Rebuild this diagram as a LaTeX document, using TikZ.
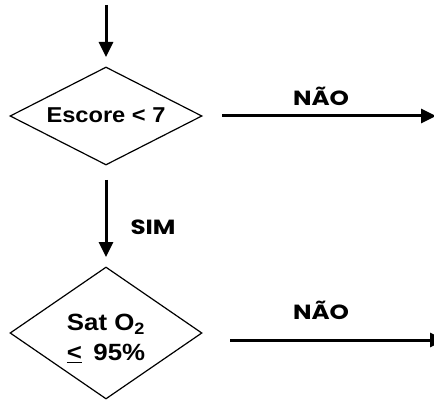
\documentclass[tikz,border=0pt]{standalone}
\usepackage{fontspec}
\usepackage{graphicx}
\setmainfont{Liberation Sans}
\newfontfamily\labelfont{Poppins}
\usetikzlibrary{arrows.meta,shapes.geometric}
\newcommand{\wide}[1]{\scalebox{1.1}[1]{#1}}
\newcommand{\widelabel}[1]{\scalebox{1.2}[1]{#1}}
\begin{document}
\begin{tikzpicture}[x=1pt,y=-1pt,
  decision/.style={draw,line width=1.2pt,diamond,inner sep=0pt,
    minimum width=192pt,minimum height=98pt},
  question/.style={font=\bfseries\fontsize{21.5}{35}\selectfont,align=center,inner sep=0pt},
  flow/.style={line width=3pt,-{Triangle[length=15pt,width=14pt]}},
  answer/.style={font=\labelfont\bfseries\fontsize{20.5}{24}\selectfont,inner sep=0pt}]
\useasboundingbox (0,0) rectangle (434,401);
\clip (0,0) rectangle (434,401);
\coordinate (start) at (106,5);
\node[decision] (d1) at (106,116) {};
\node[question] (t1) at (106,115) {\wide{Escore < 7}};
\node[decision,minimum height=132pt] (d2) at (106,333) {};
\node[question,font=\bfseries\fontsize{23.5}{30}\selectfont] (t2) at (106,338.5)
  {\wide{Sat O\textsubscript{2}}\\\wide{\underline{<}\, 95\%}};
\coordinate (e1) at (436,116);
\coordinate (e2) at (445,340);
\coordinate (s2) at (230,340);
\coordinate (s1) at (222,116);
\draw[flow] (start) -- (106,57);
\draw[flow] (s1) -- (e1);
\draw[flow] (106,180) -- (106,257);
\draw[flow] (s2) -- (e2);
\node[answer] (n1) at (321,96) {\widelabel{NÃO}};
\node[answer] (sim) at (153,227) {\widelabel{SIM}};
\node[answer] (n2) at (321,310) {\widelabel{NÃO}};
\end{tikzpicture}
\end{document}
